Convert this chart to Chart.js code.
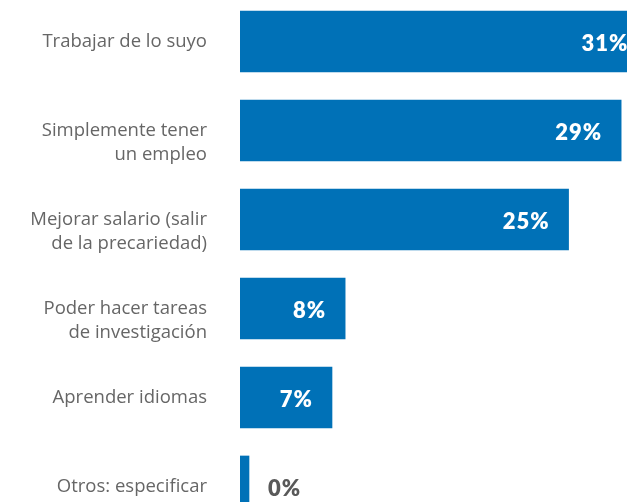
<!DOCTYPE html>
<html>
<head>
<meta charset="utf-8">
<script src="https://cdn.jsdelivr.net/npm/chart.js@4.4.1/dist/chart.umd.min.js"></script>
<style>
  html, body { margin: 0; padding: 0; background: #fff; overflow: hidden; width: 627px; height: 502px; }
  #wrap { position: relative; width: 627px; height: 502px; overflow: hidden; }
  #grafico { position: absolute; left: 0; top: -15px; }
</style>
</head>
<body>
<div id="wrap">
  <canvas id="grafico" width="700" height="558"></canvas>
</div>
<script>
// Motivaciones y porcentajes
const categorias = [
    ['Trabajar de lo suyo'],
    ['Simplemente tener', 'un empleo'],
    ['Mejorar salario (salir', 'de la precariedad)'],
    ['Poder hacer tareas', 'de investigación'],
    ['Aprender idiomas'],
    ['Otros: especificar']
];
const porcentajes = [31, 29, 25, 8, 7, 0];

const azul = '#0071b7';
const fuenteTexto = '"Open Sans", Lato, sans-serif';
const fuenteValor = 'Lato, "Open Sans", sans-serif';

// Escribe el porcentaje dentro de cada barra (o al lado si es 0)
const etiquetasValor = {
    id: 'etiquetasValor',
    afterDatasetsDraw(chart) {
        const ctx = chart.ctx;
        const meta = chart.getDatasetMeta(0);
        ctx.save();
        ctx.font = '800 22px ' + fuenteValor;
        ctx.letterSpacing = '1px';
        ctx.textBaseline = 'middle';
        meta.data.forEach((barra, i) => {
            const valor = porcentajes[i];
            const texto = valor + '%';
            if (valor > 0) {
                ctx.fillStyle = '#ffffff';
                ctx.textAlign = 'right';
                ctx.fillText(texto, barra.x - 19, barra.y + 2);
            } else {
                ctx.fillStyle = '#595959';
                ctx.textAlign = 'left';
                ctx.fillText(texto, barra.x + 19, barra.y + 2);
            }
        });
        ctx.restore();
    }
};

const ctx = document.getElementById('grafico').getContext('2d');
new Chart(ctx, {
    type: 'bar',
    data: {
        labels: categorias,
        datasets: [{
            data: porcentajes,
            backgroundColor: azul,
            borderWidth: 0,
            barThickness: 61,
            minBarLength: 9
        }]
    },
    options: {
        indexAxis: 'y',
        responsive: false,
        animation: false,
        layout: { padding: 0 },
        plugins: {
            legend: { display: false },
            tooltip: { enabled: false }
        },
        scales: {
            x: {
                display: false,
                min: 0,
                max: 35
            },
            y: {
                // el hueco entre texto y barra va en tickLength para no robar alto al área
                grid: { display: false, tickLength: 33 },
                border: { display: false },
                afterFit(scale) { scale.width = 240; },
                ticks: {
                    padding: 0,
                    color: '#666666',
                    font: { family: fuenteTexto, size: 18.5, lineHeight: 1.3 },
                    // las etiquetas de dos líneas arrancan a la altura de la barra
                    callback(valor, i) {
                        const lineas = categorias[i];
                        return lineas.length > 1 ? [''].concat(lineas) : lineas;
                    }
                }
            }
        }
    },
    plugins: [etiquetasValor]
});
</script>
</body>
</html>
